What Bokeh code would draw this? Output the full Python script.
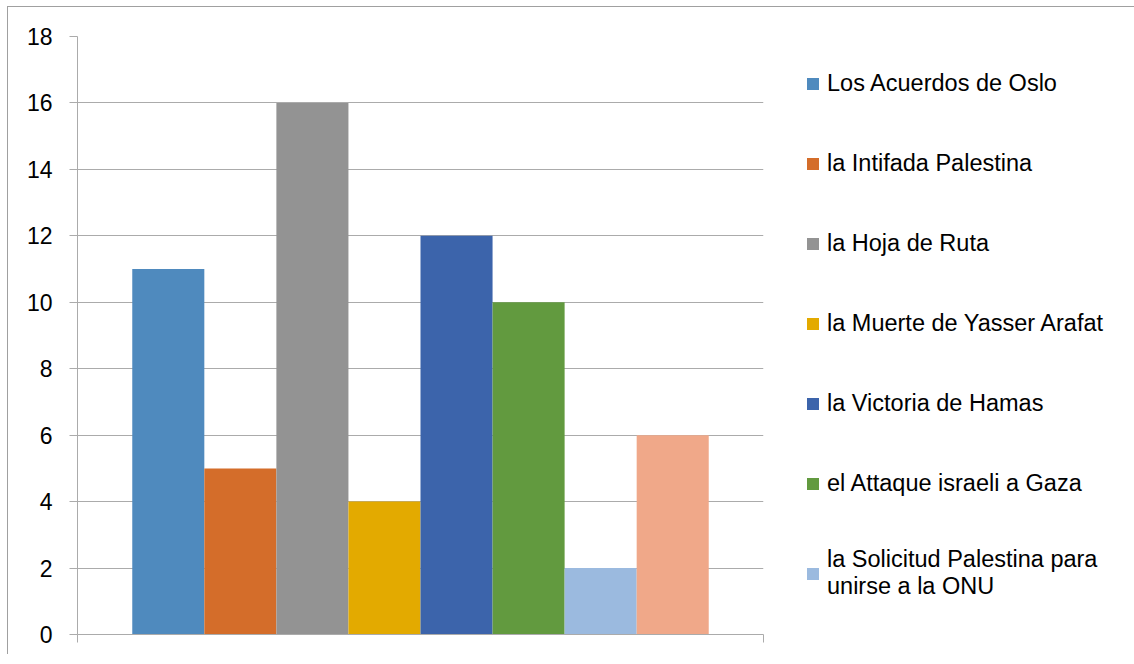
from bokeh.plotting import figure
from bokeh.models import (Range1d, FixedTicker, Legend, LegendItem)
from bokeh.embed import file_html
from bokeh.resources import INLINE

# ---- data ----
events = [
    "Los Acuerdos de Oslo",
    "la Intifada Palestina",
    "la Hoja de Ruta",
    "la Muerte de Yasser Arafat",
    "la Victoria de Hamas",
    "el Attaque israeli a Gaza",
    "la Solicitud Palestina para\nunirse a la ONU",
    "",  # eighth series: its legend entry is cut off in the original
]
counts = [11, 5, 16, 4, 12, 10, 2, 6]
colors = ["#4F8ABE", "#D46D2A", "#939393", "#E3AA00",
          "#3C64AB", "#629A3F", "#9BBADF", "#F0A889"]
y_ticks = [0, 2, 4, 6, 8, 10, 12, 14, 16, 18]

FONT = "Liberation Sans"
GRID = "#ABABAB"

pos = [i + 0.5 for i in range(len(counts))]

p = figure(frame_width=686, frame_height=598,
           min_border_left=69, min_border_top=29, min_border_right=355,
           min_border_bottom=20,
           x_range=Range1d(-0.76, 8.76), y_range=Range1d(0, 18),
           output_backend="svg", toolbar_location=None,
           styles={"margin-left": "7px", "margin-top": "6px",
                   "border-left": "1px solid #A0A0A0",
                   "border-top": "1px solid #A0A0A0"})

renderers = []
for i in range(len(counts)):
    r = p.vbar(x=[pos[i]], top=[counts[i]], width=1.0, bottom=0,
               fill_color=colors[i], line_color=None)
    renderers.append(r)

p.outline_line_color = None
p.background_fill_color = "white"
p.border_fill_color = "white"

# y axis
ya = p.yaxis[0]
ya.ticker = FixedTicker(ticks=y_ticks)
ya.axis_line_color = GRID
ya.major_tick_line_color = GRID
ya.major_tick_out = 8
ya.major_tick_in = 0
ya.minor_tick_line_color = None
ya.major_label_text_font = FONT
ya.major_label_text_font_size = "23px"
ya.major_label_text_color = "#000000"
ya.major_label_standoff = 17

# x axis
xa = p.xaxis[0]
xa.ticker = FixedTicker(ticks=[-0.76, 8.76])
xa.major_label_text_font_size = "0px"
xa.major_label_text_alpha = 0
xa.axis_line_color = GRID
xa.major_tick_line_color = GRID
xa.major_tick_out = 8
xa.major_tick_in = 0
xa.minor_tick_line_color = None

p.xgrid.grid_line_color = None
p.ygrid.ticker = FixedTicker(ticks=y_ticks)
p.ygrid.grid_line_color = GRID

# legend (first seven series; the eighth entry is not visible in the original)
items = [LegendItem(label=events[i], renderers=[renderers[i]]) for i in range(7)]

legend = Legend(items=items, location=(42, 34),
                glyph_width=15, glyph_height=15, label_height=34,
                spacing=46, padding=0, margin=0, label_standoff=7,
                label_text_font=FONT, label_text_font_size="23.5px",
                label_text_line_height=1.4,
                label_text_color="#000000",
                border_line_color=None, background_fill_alpha=0)
p.add_layout(legend, "right")

open("out.html", "w").write(file_html(p, INLINE))
